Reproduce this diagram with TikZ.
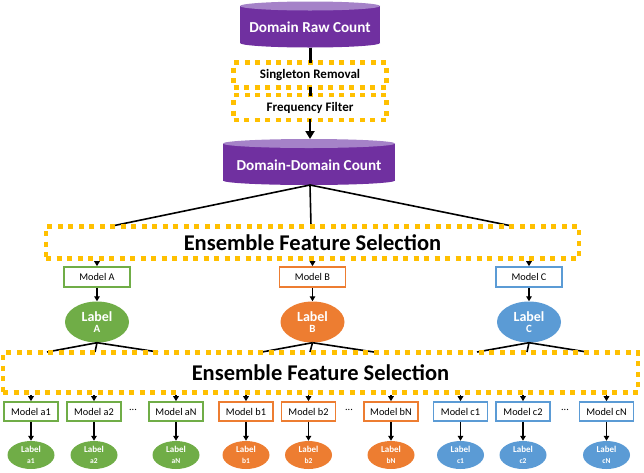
\documentclass[tikz,border=0pt]{standalone}
\usepackage{fontspec}
\setmainfont{Carlito}
\usetikzlibrary{arrows.meta,calc,shapes.geometric}
\definecolor{purp}{HTML}{7030A0}
\definecolor{purptop}{HTML}{A582C8}
\definecolor{gold}{HTML}{FFC000}
\definecolor{grn}{HTML}{70AD47}
\definecolor{org}{HTML}{ED7D31}
\definecolor{blu}{HTML}{5B9BD5}
\tikzset{
  dotbox/.style={draw=gold, line width=4.5pt, dash pattern=on 5pt off 5.5pt, rectangle, inner sep=0pt},
  modelbox/.style={draw=#1, fill=white, line width=1.6pt, rectangle, inner sep=0pt, font=\fontsize{10.3}{12}\selectfont},
  bigmodel/.style={modelbox=#1, minimum width=66pt, minimum height=20pt},
  smallmodel/.style={modelbox=#1, minimum width=54pt, minimum height=19pt},
  biglabel/.style={ellipse, fill=#1, text=white, inner sep=0pt, minimum width=64pt, minimum height=41pt, align=center, font=\bfseries},
  smalllabel/.style={ellipse, fill=#1, text=white, inner sep=0pt, minimum width=47pt, minimum height=28pt, align=center, font=\bfseries},
  conn/.style={black, line width=1.6pt},
  arr/.style={black, line width=1.4pt, -{Triangle[length=5pt,width=5.5pt]}},
  cyltext/.style={text=white, font=\fontsize{15.2}{17}\selectfont\bfseries},
  boxtext/.style={font=\fontsize{13}{15}\selectfont\bfseries},
  enstext/.style={font=\fontsize{22.5}{25}\selectfont\bfseries},
}
\begin{document}
\begin{tikzpicture}[x=1pt,y=-1pt]
\useasboundingbox (0,0) rectangle (644,472);
% cylinder 1
\fill[purp] (310,43) ellipse[x radius=70, y radius=4.5];
\fill[purp] (240,6) rectangle (380,43);
\fill[purptop] (310,6) ellipse[x radius=70, y radius=4.5];
\node[cyltext] (raw) at (310,27) {Domain Raw Count};
\coordinate (rawb) at (310,47.5);
% cylinder 2
\fill[purp] (309,180.5) ellipse[x radius=86, y radius=4.5];
\fill[purp] (223,143.5) rectangle (395,180.5);
\fill[purptop] (309,143.5) ellipse[x radius=86, y radius=4.5];
\node[cyltext] (dd) at (309,165) {Domain-Domain Count};
\coordinate (ddt) at (310,139);
\coordinate (ddb) at (310,185);

% pre-processing boxes
\node[dotbox, boxtext, minimum width=153pt, minimum height=25pt] (sing) at (310,75) {Singleton Removal};
\node[dotbox, boxtext, minimum width=153pt, minimum height=25pt] (freq) at (310,107.5) {Frequency Filter};
\draw[black, line width=3pt] (rawb) -- ([yshift=-3pt]sing.north);
\draw[black, line width=3pt] ([yshift=3pt]sing.south) -- ([yshift=-3pt]freq.north);
\draw[black, line width=2.6pt, -{Triangle[length=8pt,width=9pt]}] ([yshift=3pt]freq.south) -- (ddt);

% first ensemble
\coordinate (e1) at (112,226);
\coordinate (e2) at (311,226);
\coordinate (e3) at (512,226);
\draw[conn] (ddb) -- (e1);
\draw[conn] (ddb) -- (e2);
\draw[conn] (ddb) -- (e3);
\node[dotbox, enstext, minimum width=533pt, minimum height=32pt] (ens1) at (312.5,242.5) {Ensemble Feature Selection};

\node[bigmodel=grn] (mA) at (97,277) {Model A};
\node[bigmodel=org] (mB) at (312.5,277) {Model B};
\node[bigmodel=blu] (mC) at (529,277) {Model C};
\foreach \m in {mA,mB,mC} \draw[arr] (ens1.south -| \m) -- (\m.north);

\node[biglabel=grn] (lA) at (97,322) {\fontsize{14}{16}\selectfont Label\\[-1pt]\fontsize{11}{12}\selectfont A};
\node[biglabel=org] (lB) at (312.5,322) {\fontsize{14}{16}\selectfont Label\\[-1pt]\fontsize{11}{12}\selectfont B};
\node[biglabel=blu] (lC) at (529,322) {\fontsize{14}{16}\selectfont Label\\[-1pt]\fontsize{11}{12}\selectfont C};
\draw[arr] (mA.south) -- (lA.north);
\draw[arr] (mB.south) -- (lB.north);
\draw[arr] (mC.south) -- (lC.north);

% second-level connectors
\coordinate (ta1) at (47,352);  \coordinate (ta2) at (95,352);  \coordinate (ta3) at (158,352);
\coordinate (tb1) at (262,352); \coordinate (tb2) at (310,352); \coordinate (tb3) at (374,352);
\coordinate (tc1) at (477,352); \coordinate (tc2) at (527,352); \coordinate (tc3) at (587,352);
\foreach \t in {ta1,ta2,ta3} \draw[conn] (lA.south) -- (\t);
\foreach \t in {tb1,tb2,tb3} \draw[conn] (lB.south) -- (\t);
\foreach \t in {tc1,tc2,tc3} \draw[conn] (lC.south) -- (\t);

\node[dotbox, enstext, minimum width=635pt, minimum height=40pt] (ens2) at (320.5,372.5) {Ensemble Feature Selection};

% small models
\node[smallmodel=grn] (ma1) at (31,411.5) {Model a1};
\node[smallmodel=grn] (ma2) at (94,411.5) {Model a2};
\node[smallmodel=grn] (maN) at (176,411.5) {Model aN};
\node[smallmodel=org] (mb1) at (246,411.5) {Model b1};
\node[smallmodel=org] (mb2) at (308.5,411.5) {Model b2};
\node[smallmodel=org] (mbN) at (391,411.5) {Model bN};
\node[smallmodel=blu] (mc1) at (460.5,411.5) {Model c1};
\node[smallmodel=blu] (mc2) at (523,411.5) {Model c2};
\node[smallmodel=blu] (mcN) at (606.5,411.5) {Model cN};
\node[font=\fontsize{10.3}{12}\selectfont] (da) at (133,410) {...};
\node[font=\fontsize{10.3}{12}\selectfont] (db) at (349,410) {...};
\node[font=\fontsize{10.3}{12}\selectfont] (dc) at (565,410) {...};

\foreach \n/\c/\s in {a1/grn/a1, a2/grn/a2, aN/grn/aN, b1/org/b1, b2/org/b2, bN/org/bN, c1/blu/c1, c2/blu/c2, cN/blu/cN}{
  \node[smalllabel=\c] (l\n) at (m\n |- 0,455) {\fontsize{9}{10}\selectfont Label\\[-1pt]\fontsize{7.5}{9}\selectfont \s};
  \draw[arr] (ens2.south -| m\n) -- (m\n.north);
  \draw[arr] (m\n.south) -- (l\n.north);
}
\end{tikzpicture}
\end{document}
